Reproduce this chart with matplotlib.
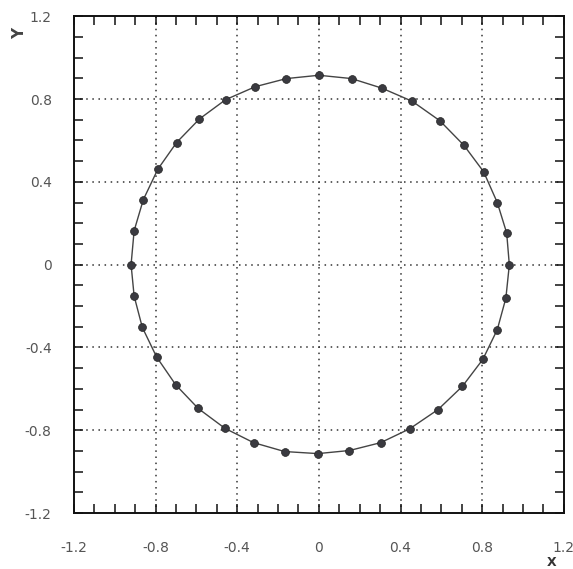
import matplotlib.pyplot as plt
from matplotlib.ticker import MultipleLocator

# points (counter-clockwise from the left)
x_values = [-0.920, -0.905, -0.860, -0.789, -0.697, -0.585, -0.457, -0.311, -0.159, 0.000,
            0.160, 0.308, 0.458, 0.593, 0.711, 0.807, 0.874, 0.920, 0.933,
            0.916, 0.874, 0.803, 0.703, 0.584, 0.445, 0.303, 0.150, -0.005,
            -0.168, -0.320, -0.460, -0.591, -0.701, -0.795, -0.865, -0.905]
y_values = [0.000, 0.164, 0.314, 0.461, 0.590, 0.704, 0.797, 0.860, 0.899, 0.915,
            0.899, 0.853, 0.789, 0.695, 0.576, 0.449, 0.300, 0.153, -0.001,
            -0.162, -0.314, -0.458, -0.588, -0.700, -0.793, -0.860, -0.898, -0.913,
            -0.903, -0.860, -0.791, -0.695, -0.581, -0.446, -0.303, -0.152]

major_ticks = [-1.2, -0.8, -0.4, 0, 0.4, 0.8, 1.2]
tick_labels = ['-1.2', '-0.8', '-0.4', '0', '0.4', '0.8', '1.2']

fig = plt.figure(figsize=(5.73, 5.69), dpi=100)
ax = fig.add_axes([0.129, 0.0984, 0.855, 0.873])

# closed curve through the points
ax.plot(x_values + x_values[:1], y_values + y_values[:1], color='#444444', lw=1.0, zorder=2)
ax.scatter(x_values, y_values, s=32, color='#3a3a40', edgecolors='#222222', linewidths=0.5, zorder=3)

ax.set_xlim(-1.2, 1.2)
ax.set_ylim(-1.2, 1.2)
ax.set_xticks(major_ticks)
ax.set_xticklabels(tick_labels)
ax.set_yticks(major_ticks)
ax.set_yticklabels(tick_labels)
ax.xaxis.set_minor_locator(MultipleLocator(0.1))
ax.yaxis.set_minor_locator(MultipleLocator(0.1))

ax.tick_params(which='both', direction='in', top=True, right=True, length=6.5, width=1.1,
               color='#111111')
ax.tick_params(axis='x', which='major', pad=20, labelsize=10, labelcolor='#555555')
ax.tick_params(axis='y', which='major', pad=16, labelsize=10, labelcolor='#555555')

for s in ax.spines.values():
    s.set_linewidth(1.4)
    s.set_color('#111111')

# dotted grid at the major ticks, without the frame lines
for v in major_ticks[1:-1]:
    ax.axvline(v, color='#333333', lw=1.1, ls=(0, (1, 3)), zorder=1)
    ax.axhline(v, color='#333333', lw=1.1, ls=(0, (1, 3)), zorder=1)

fig.text(0.035, 0.942, 'Y', rotation=90, fontsize=11, fontweight='bold', color='#444444',
         ha='center', va='center')
fig.text(0.962, 0.012, 'X', fontsize=9, fontweight='bold', color='#333333', ha='center', va='center')

plt.savefig('out.png', dpi=100)
